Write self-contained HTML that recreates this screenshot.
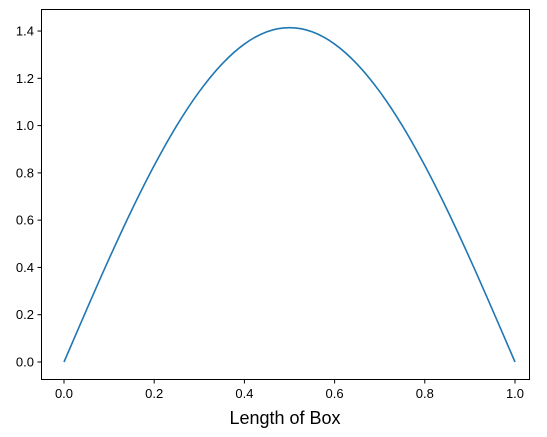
<!DOCTYPE html>
<html>
<head>
<meta charset="utf-8">
<style>
  html,body{margin:0;padding:0;background:#fff;}
  svg{display:block;font-family:"Liberation Sans","DejaVu Sans",sans-serif;}
</style>
</head>
<body>
<svg id="chart" width="547" height="437" viewBox="0 0 547 437">
  <rect x="41.5" y="9.5" width="488" height="370" fill="none" stroke="#000" stroke-width="1"/>
  <g id="xticks"></g>
  <g id="yticks"></g>
  <path id="line" fill="none" stroke="#1f77b4" stroke-width="1.6"/>
  <text x="285" y="424" font-size="18" text-anchor="middle" fill="#000">Length of Box</text>
</svg>
<script>
const xValues = [0,0.05,0.1,0.15,0.2,0.25,0.3,0.35,0.4,0.45,0.5,0.55,0.6,0.65,0.7,0.75,0.8,0.85,0.9,0.95,1.0];
const yValues = [0,0.221,0.437,0.642,0.831,1.0,1.144,1.260,1.345,1.397,1.414,1.397,1.345,1.260,1.144,1.0,0.831,0.642,0.437,0.221,0];
const xTickLabels = ["0.0","0.2","0.4","0.6","0.8","1.0"];
const xTickValues = [0,0.2,0.4,0.6,0.8,1.0];
const yTickLabels = ["0.0","0.2","0.4","0.6","0.8","1.0","1.2","1.4"];
const yTickValues = [0,0.2,0.4,0.6,0.8,1.0,1.2,1.4];

const NS = "http://www.w3.org/2000/svg";
function xs(v){ return 64 + v*451; }
function ys(v){ return 362 - v*236.4; }

const xg = document.getElementById('xticks');
xTickValues.forEach((v,i)=>{
  const px = xs(v);
  const t = document.createElementNS(NS,'line');
  t.setAttribute('x1',px);t.setAttribute('x2',px);t.setAttribute('y1',379.5);t.setAttribute('y2',383.5);
  t.setAttribute('stroke','#000');
  
  
  xg.appendChild(t);
  const l = document.createElementNS(NS,'text');
  l.setAttribute('x',px);l.setAttribute('y',398);l.setAttribute('font-size','13');l.setAttribute('text-anchor','middle');
  l.textContent = xTickLabels[i];
  
  
  xg.appendChild(l);
});
const yg = document.getElementById('yticks');
yTickValues.forEach((v,i)=>{
  const py = ys(v);
  const t = document.createElementNS(NS,'line');
  t.setAttribute('x1',37.5);t.setAttribute('x2',41.5);t.setAttribute('y1',py);t.setAttribute('y2',py);
  t.setAttribute('stroke','#000');
  
  
  yg.appendChild(t);
  const l = document.createElementNS(NS,'text');
  l.setAttribute('x',34);l.setAttribute('y',py+4.5);l.setAttribute('font-size','13');l.setAttribute('text-anchor','end');
  l.textContent = yTickLabels[i];
  
  
  yg.appendChild(l);
});
// smooth path through points (Catmull-Rom to cubic Bezier)
const pts = xValues.map((v,i)=>[xs(v), ys(yValues[i])]);
let d = 'M' + pts[0][0].toFixed(2) + ',' + pts[0][1].toFixed(2);
for (let i=0;i<pts.length-1;i++){
  const p0 = pts[Math.max(0,i-1)], p1 = pts[i], p2 = pts[i+1], p3 = pts[Math.min(pts.length-1,i+2)];
  const c1x = p1[0] + (p2[0]-p0[0])/6, c1y = p1[1] + (p2[1]-p0[1])/6;
  const c2x = p2[0] - (p3[0]-p1[0])/6, c2y = p2[1] - (p3[1]-p1[1])/6;
  d += 'C' + c1x.toFixed(2)+','+c1y.toFixed(2)+' '+c2x.toFixed(2)+','+c2y.toFixed(2)+' '+p2[0].toFixed(2)+','+p2[1].toFixed(2);
}
document.getElementById('line').setAttribute('d', d);
</script>
</body>
</html>
